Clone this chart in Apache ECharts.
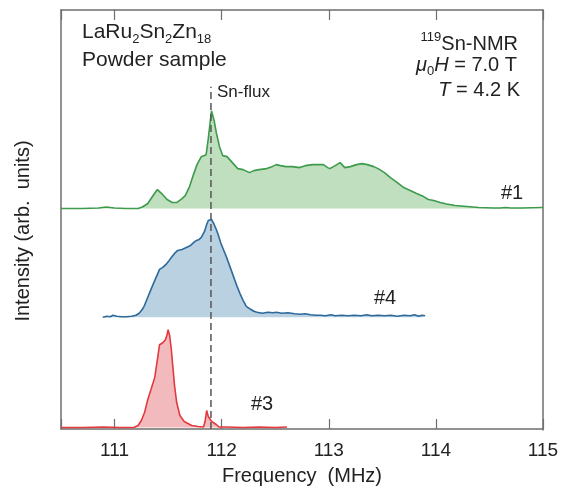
<!DOCTYPE html>
<html>
<head>
<meta charset="utf-8">
<script src="https://cdn.jsdelivr.net/npm/echarts@6/dist/echarts.min.js"></script>
<style>
  html, body { margin: 0; padding: 0; background: #fff; }
  #main { width: 566px; height: 491px; }
</style>
</head>
<body>
<div id="main"></div>
<script>
// 频率刻度
var tickValues = [111, 112, 113, 114, 115];
var snFlux = 111.9;

// #1 (green) : [MHz, intensity]
var freq1 = [110.50, 110.70, 110.85, 110.92, 111.00, 111.10, 111.22, 111.26, 111.31, 111.36, 111.40, 111.44, 111.49, 111.54, 111.58, 111.63, 111.66, 111.70, 111.74, 111.77, 111.81, 111.855, 111.875, 111.905, 111.93, 111.95, 111.98, 112.01, 112.05, 112.10, 112.15, 112.20, 112.26, 112.30, 112.35, 112.42, 112.47, 112.51, 112.55, 112.60, 112.66, 112.73, 112.78, 112.85, 112.90, 112.95, 112.99, 113.01, 113.06, 113.105, 113.15, 113.20, 113.26, 113.31, 113.36, 113.42, 113.46, 113.52, 113.575, 113.64, 113.70, 113.76, 113.82, 113.885, 113.93, 113.98, 114.04, 114.10, 114.18, 114.29, 114.40, 114.54, 114.60, 114.65, 114.70, 114.80, 115.00];
var int1 = [0, 0, 0.5, 1.5, 0.5, 0, 0, 1.5, 5, 13, 19, 15, 9, 6, 6, 10, 13, 22, 35, 44, 52, 54, 70, 98, 88, 76, 62, 53, 52, 46, 40, 39, 36, 38, 39, 40, 42, 44, 43, 42, 42, 41, 43, 44, 44, 44, 41, 40, 43, 46, 41, 42, 44, 45, 44, 42, 40, 36, 31, 26, 21, 18, 15, 12, 9, 8, 6, 4.5, 3, 2, 1, 0.5, 0.5, 1, 0.5, 0.5, 1];

// #4 (blue)
var freq4 = [110.89, 110.93, 110.96, 110.985, 111.02, 111.06, 111.11, 111.16, 111.20, 111.23, 111.26, 111.28, 111.31, 111.34, 111.38, 111.42, 111.45, 111.48, 111.51, 111.53, 111.56, 111.59, 111.63, 111.67, 111.71, 111.74, 111.765, 111.79, 111.81, 111.84, 111.86, 111.875, 111.905, 111.93, 111.95, 111.97, 111.99, 112.02, 112.05, 112.08, 112.11, 112.14, 112.17, 112.20, 112.23, 112.27, 112.30, 112.33, 112.38, 112.43, 112.48, 112.51, 112.56, 112.62, 112.68, 112.73, 112.78, 112.83, 112.88, 112.92, 112.97, 113.02, 113.06, 113.12, 113.18, 113.24, 113.30, 113.355, 113.40, 113.46, 113.52, 113.58, 113.64, 113.70, 113.76, 113.80, 113.84, 113.87, 113.885, 113.90];
var int4 = [0, 1, 0.5, 2, 1, 0.5, 0.5, 1, 2, 4, 8, 12, 20, 28, 38, 48, 50, 53, 57, 60, 64, 67, 68, 70, 72, 75, 77, 78, 80, 86, 93, 97, 98, 93, 88, 82, 75, 67, 59, 50, 41, 32, 24, 17, 11, 8, 6, 5, 4, 5, 4.5, 5, 4, 4.5, 3.5, 3, 3.5, 2.5, 2, 2, 1.5, 2.5, 1.5, 2, 1.5, 2, 1.5, 2.5, 1.5, 2, 1.5, 2, 1, 2, 1.5, 2.5, 1, 2, 0, 1.5];

// #3 (red)
var freq3 = [110.50, 110.70, 110.90, 111.05, 111.18, 111.22, 111.25, 111.28, 111.31, 111.34, 111.375, 111.40, 111.42, 111.45, 111.475, 111.49, 111.50, 111.515, 111.53, 111.545, 111.56, 111.58, 111.61, 111.65, 111.72, 111.78, 111.83, 111.845, 111.86, 111.875, 111.90, 111.92, 111.95, 111.975, 112.05, 112.20, 112.35, 112.50, 112.61];
var int3 = [0, 0, 0.5, 0, 0, 2, 7, 15, 28, 38, 50, 68, 83, 85, 88, 93, 98, 92, 78, 60, 42, 25, 12, 6, 2, 1, 0.5, 6, 17, 11, 7, 5, 3, 0.5, 0.5, 0, 0.5, 0, 0.5];

(function () {
    var myChart = echarts.init(document.getElementById('main'));
    var font = 'Liberation Sans, Arial, sans-serif';
    var axisColor = '#6e6e6e';

    function pack(fs, vs, base) {
        var out = [];
        for (var i = 0; i < fs.length; i++) {
            out.push([fs[i], vs[i] + base]);
        }
        return out;
    }

    // 每条谱线的竖直偏移
    function spectrum(name, fs, vs, base, line, fill) {
        return {
            name: name,
            type: 'line',
            xAxisIndex: 0,
            yAxisIndex: 0,
            data: pack(fs, vs, base),
            showSymbol: false,
            symbol: 'none',
            lineStyle: { color: line, width: 1.6 },
            areaStyle: { color: fill, opacity: 1, origin: base },
            z: 2
        };
    }

    // 只显示整数刻度的标签
    function tickLabel(v) {
        return tickValues.indexOf(Math.round(v * 1000) / 1000) >= 0 ? String(Math.round(v)) : '';
    }

    var sub = { fontSize: 13, lineHeight: 12, verticalAlign: 'bottom', fontFamily: font, fill: '#222' };
    var sup = { fontSize: 13, lineHeight: 12, verticalAlign: 'top', fontFamily: font, fill: '#222' };

    var tickStyle = { show: true, inside: true, length: 10, lineStyle: { color: axisColor, width: 1.2 } };

    var option = {
        animation: false,
        // 两个重叠的 grid：一个画下/左边框，一个画上/右边框
        grid: [
            { left: 61, right: 23, top: 10, bottom: 61 },
            { left: 61, right: 23, top: 10, bottom: 61 }
        ],
        xAxis: [
            {
                gridIndex: 0,
                type: 'value',
                min: 110.5,
                max: 115,
                splitNumber: 5,
                position: 'bottom',
                name: 'Frequency  (MHz)',
                nameLocation: 'middle',
                nameGap: 37,
                nameTextStyle: { fontSize: 20, color: '#222', fontFamily: font },
                axisLine: { show: true, lineStyle: { color: axisColor, width: 1.5 } },
                axisTick: tickStyle,
                axisLabel: { formatter: tickLabel, fontSize: 19, color: '#222', margin: 12, fontFamily: font },
                splitLine: { show: false }
            },
            {
                gridIndex: 1,
                type: 'value',
                min: 110.5,
                max: 115,
                splitNumber: 5,
                position: 'top',
                axisLine: { show: true, lineStyle: { color: axisColor, width: 1.5 } },
                axisTick: tickStyle,
                axisLabel: { show: false },
                splitLine: { show: false }
            }
        ],
        yAxis: [
            {
                gridIndex: 0,
                type: 'value',
                min: 0,
                max: 420,
                position: 'left',
                axisLine: { show: true, lineStyle: { color: axisColor, width: 1.5 } },
                axisTick: { show: false },
                axisLabel: { show: false },
                splitLine: { show: false }
            },
            {
                gridIndex: 1,
                type: 'value',
                min: 1,
                max: 2,
                position: 'right',
                axisLine: { show: true, lineStyle: { color: axisColor, width: 1.5 } },
                axisTick: { show: false },
                axisLabel: { show: false },
                splitLine: { show: false }
            }
        ],
        series: [
            spectrum('#1', freq1, int1, 221, '#3d9b4b', '#bfdfbf'),
            spectrum('#4', freq4, int4, 112, '#2d6a9c', '#bad1e1'),
            spectrum('#3', freq3, int3, 1.5, '#e33a3f', '#f3babd'),
            {
                name: 'Sn-flux',
                type: 'line',
                xAxisIndex: 0,
                yAxisIndex: 0,
                data: [[snFlux, 0], [snFlux, 343]],
                showSymbol: false,
                symbol: 'none',
                lineStyle: { color: '#555', width: 1.5, type: [7, 4] },
                z: 5
            }
        ],
        graphic: [
            {
                type: 'text', left: 82, top: 22,
                style: {
                    text: '{a|LaRu}{s|2}{a|Sn}{s|2}{a|Zn}{s|18}',
                    rich: { a: { fontSize: 21, lineHeight: 26, fontFamily: font, fill: '#222' }, s: sub }
                }
            },
            {
                type: 'text', left: 82, top: 50,
                style: { text: 'Powder sample', font: '21px ' + font, fill: '#222' }
            },
            {
                type: 'text', right: 48, top: 31,
                style: {
                    text: '{p|119}{a|Sn-NMR}',
                    rich: { a: { fontSize: 20, lineHeight: 26, fontFamily: font, fill: '#222' }, p: sup }
                }
            },
            {
                type: 'text', right: 49, top: 55,
                style: {
                    text: '{i|μ}{s|0}{i|H}{a| = 7.0 T}',
                    rich: {
                        a: { fontSize: 20, lineHeight: 26, fontFamily: font, fill: '#222' },
                        i: { fontSize: 20, lineHeight: 26, fontFamily: font, fontStyle: 'italic', fill: '#222' },
                        s: sub
                    }
                }
            },
            {
                type: 'text', right: 46, top: 80,
                style: {
                    text: '{i|T}{a| = 4.2 K}',
                    rich: {
                        a: { fontSize: 20, lineHeight: 26, fontFamily: font, fill: '#222' },
                        i: { fontSize: 20, lineHeight: 26, fontFamily: font, fontStyle: 'italic', fill: '#222' }
                    }
                }
            },
            {
                type: 'text', left: 217, top: 84,
                style: { text: 'Sn-flux', font: '17px ' + font, fill: '#222' }
            },
            { type: 'text', left: 501, top: 183, style: { text: '#1', font: '20px ' + font, fill: '#222' } },
            { type: 'text', left: 374, top: 288, style: { text: '#4', font: '20px ' + font, fill: '#222' } },
            { type: 'text', left: 251, top: 394, style: { text: '#3', font: '20px ' + font, fill: '#222' } },
            {
                type: 'text',
                x: 23, y: 231,
                rotation: Math.PI / 2,
                style: {
                    text: 'Intensity (arb.  units)',
                    font: '20px ' + font,
                    fill: '#222',
                    align: 'center',
                    verticalAlign: 'middle'
                }
            }
        ]
    };

    myChart.setOption(option);
    window.addEventListener('resize', function () {
        myChart.resize();
    });
})();
</script>
</body>
</html>
